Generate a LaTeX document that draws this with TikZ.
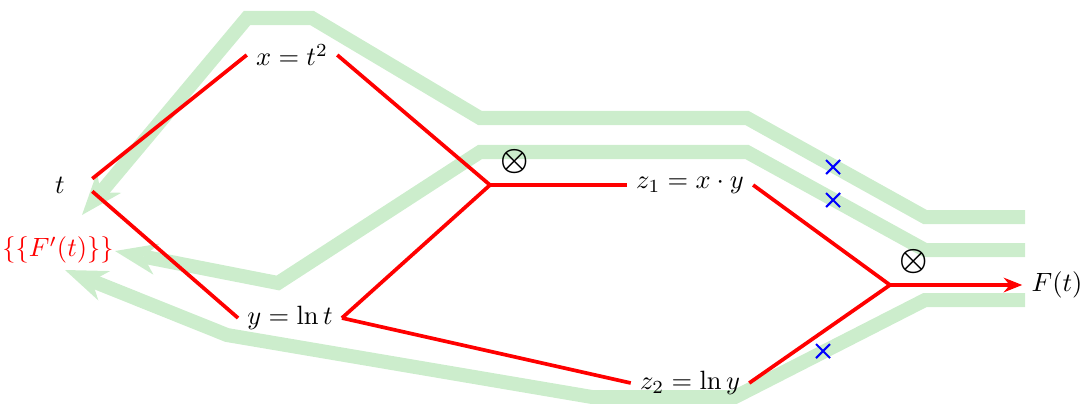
\documentclass[tikz,border=0pt]{standalone}
\usepackage{amsmath}
\usepackage{xcolor}
\usepackage{tikz}
\usetikzlibrary{arrows.meta,positioning,calc}
\definecolor{adj}{HTML}{CCEDCC}
\colorlet{fwd}{red}
\colorlet{cut}{blue}

\begin{document}
\begin{tikzpicture}[x=0.378pt,y=-0.378pt,
  var/.style={inner sep=3.33pt},
  edge/.style={fwd,line width=1.4pt},
  back/.style={adj,line width=5.3pt,-{Stealth[length=16pt,width=12pt,inset=5pt,line width=0pt]}},
  cross/.style={cut,line width=0.8pt},
  prod/.style={font=\large}]
\useasboundingbox (0,0) rectangle (1086,403);
% adjoint sweeps
\draw[back] (1025,217) -- (925,217) -- (747,118) -- (480,118) -- (312,18) -- (247,18) -- (82,215);
\draw[back] (1025,250) -- (925,250) -- (747,152) -- (480,152) -- (278,283) -- (115,251);
\draw[back] (1025,300) -- (925,300) -- (735,397) -- (592,397) -- (227,335) -- (65,270);
% variables
\node[var,minimum width=24pt] (t) at (60,185) {$t$};
\node[var,text=fwd] (dF) at (58,250) {$\{\{F'(t)\}\}$};
\node[var] (x) at (292,55) {$x=t^2$};
\node[var] (y) at (290,318) {$y=\ln t$};
\node[var] (z1) at (690,185) {$z_1=x\cdot y$};
\node[var] (z2) at (690,383) {$z_2=\ln y$};
\node[var] (F) at (1057,285) {$F(t)$};
\coordinate (j1) at (490,185);
\coordinate (j2) at (890,285);
% forward graph
\draw[edge] ([yshift=2.4pt]t.east) -- (x.west);
\draw[edge] ([yshift=-2.4pt]t.east) -- (y.west);
\draw[edge] (x.east) -- (j1) -- (z1.west);
\draw[edge] (y.east) -- (j1);
\draw[edge] (y.east) -- (z2.west);
\draw[edge] (z1.east) -- (j2);
\draw[edge] (z2.east) -- (j2);
\draw[edge,-{Stealth[length=7pt,width=5.5pt]}] (j2) -- (F.west);
% marks
\node[prod] (m1) at (515,162) {$\boldsymbol{\otimes}$};
\node[prod] (m2) at (914,262) {$\boldsymbol{\otimes}$};
\foreach \p in {(833,167),(833,200),(823,351)}
  \draw[cross] \p +(-7,-7) -- +(7,7) \p +(-7,7) -- +(7,-7);
\end{tikzpicture}
\end{document}
